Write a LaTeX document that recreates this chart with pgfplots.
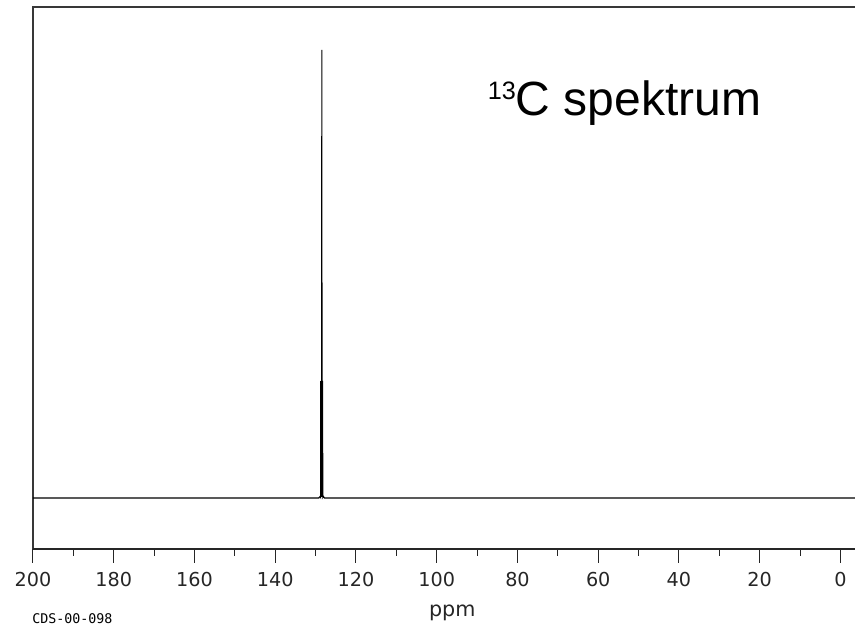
\documentclass[border=0pt]{standalone}
\usepackage{pgfplots}
\pgfplotsset{compat=1.18}
\usepackage{fontspec}
\setmainfont{Liberation Sans}
\newfontfamily\tickfont{DejaVu Sans}
\newfontfamily\cdsfont{DejaVu Sans Mono}
\begin{document}
\begin{tikzpicture}
\begin{axis}[
  scale only axis, width=616.5pt, height=406.5pt,
  x dir=reverse, xmin=-3.6, xmax=200, ymin=-51, ymax=491,
  axis line style={draw=none},
  xtick={0,20,...,200}, minor x tick num=1,
  xtick pos=bottom, tick align=outside,
  ytick=\empty,
  major tick length=10.5pt, minor tick length=5.25pt,
  tick style={black!85, line width=0.75pt},
  /pgf/number format/assume math mode=true,
  xticklabel style={font=\tickfont\fontsize{14.4pt}{16pt}\selectfont, text=black!85, yshift=-3.2pt},
  xlabel={ppm},
  xlabel style={at={(axis description cs:0.51,0)}, anchor=center, yshift=-48pt, font=\tickfont\fontsize{15.5pt}{17pt}\selectfont, text=black!85},
  clip=false,
]
\draw[black!78, line width=1.3pt] (rel axis cs:0,0) -- (rel axis cs:0,1) -- (rel axis cs:1,1);
\draw[black!85, line width=0.8pt] (rel axis cs:0,0) -- (rel axis cs:1,0);
\addplot[black, line width=0.8pt] coordinates {
  (200,0) (129.2,0) (128.9,1.5) (128.75,0.5) (128.6,117) (128.55,2)
  (128.45,448) (128.4,2) (128.3,117) (128.2,0.5) (128.05,1.5) (127.8,0) (-3.6,0)
};
\addplot[black, line width=2.2pt] coordinates {(128.45,1) (128.45,117)};
\node[anchor=base west, inner sep=0] at (axis cs:87.4,382)
  {\raisebox{12pt}{\fontsize{18.9pt}{20pt}\selectfont 13}\fontsize{36pt}{40pt}\selectfont C spektrum};
\node[anchor=west, inner sep=0, xshift=-0.75pt, yshift=-52.5pt] at (rel axis cs:0,0)
  {\cdsfont\fontsize{10pt}{12pt}\selectfont CDS-00-098};
\end{axis}
\pgfresetboundingbox
\path[use as bounding box] ([xshift=-24.75pt,yshift=-63.75pt]current axis.south west) rectangle ([yshift=5.25pt]current axis.north east);
\end{tikzpicture}
\end{document}
